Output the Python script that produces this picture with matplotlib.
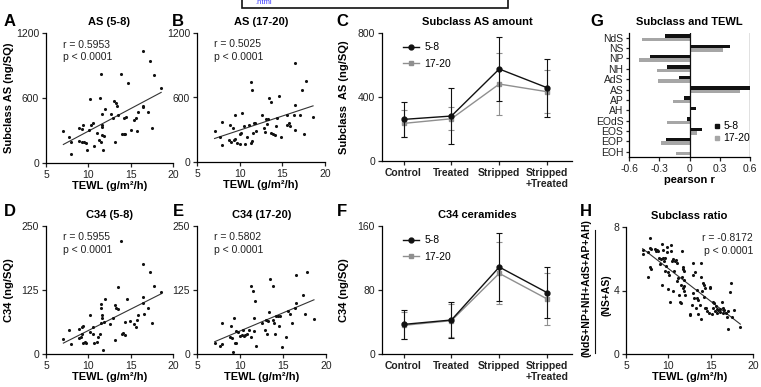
import numpy as np
import matplotlib
matplotlib.use('Agg')
import matplotlib.pyplot as plt
from matplotlib.lines import Line2D
from matplotlib.patches import Rectangle

plt.rcParams['font.family'] = ['Liberation Sans', 'DejaVu Sans']
plt.rcParams['font.size'] = 7.5
plt.rcParams['axes.linewidth'] = 0.9

# ---- data ----
# A: AS (5-8) vs TEWL
a_x = [7.05, 7.7, 8.0, 7.9, 8.9, 9.2, 9.4, 8.9, 9.2, 9.5, 9.7, 9.9, 10.1, 10.3, 10.5, 10.2,
       10.7, 11.0, 11.4, 11.5, 11.3, 11.6, 11.6, 11.6, 11.7, 11.9, 12.0, 11.5, 11.6, 12.7,
       12.9, 13.05, 13.2, 13.3, 13.4, 13.5, 13.8, 13.96, 14.2, 14.3, 14.2, 14.5, 14.7, 15.0,
       15.4, 15.6, 15.8, 15.9, 16.4, 16.5, 16.4, 17.1, 17.3, 17.5, 17.8, 18.6]
a_y = [294, 241, 195, 84, 319, 316, 350, 204, 195, 195, 186, 124, 303, 350, 371, 588,
       155, 278, 603, 823, 210, 263, 350, 448, 118, 247, 495, 195, 334, 448,
       411, 572, 195, 550, 526, 442, 823, 272, 272, 272, 411, 427, 736, 303,
       396, 411, 297, 473, 526, 520, 1030, 473, 943, 325, 813, 696]

# B: AS (17-20) vs TEWL
b_x = [7.06, 7.7, 7.97, 7.97, 8.9, 9.2, 8.8, 9.0, 9.35, 9.5, 9.7, 10.0, 9.4, 10.0, 10.2, 10.3,
       10.5, 10.6, 10.9, 11.1, 11.3, 11.4, 11.3, 11.5, 11.6, 11.7, 11.8, 11.9, 12.6, 12.8,
       12.95, 13.07, 13.2, 13.35, 13.45, 13.7, 13.7, 13.9, 14.1, 14.2, 14.4, 14.6, 14.9, 15.5,
       15.5, 15.8, 15.9, 16.5, 16.5, 16.4, 17.06, 17.3, 17.5, 17.8, 16.5, 18.6]
b_y = [290, 228, 156, 368, 343, 318, 203, 187, 203, 215, 178, 171, 436, 256, 271, 452,
       334, 165, 234, 340, 178, 197, 742, 670, 274, 365, 359, 290, 433, 312,
       281, 396, 352, 402, 592, 561, 274, 259, 249, 334, 405, 614, 234, 436,
       343, 359, 334, 530, 302, 436, 436, 670, 256, 758, 919, 421]

# D: C34 (5-8) vs TEWL
d_x = [7.05, 7.7, 7.95, 8.9, 8.9, 9.3, 9.1, 9.3, 9.4, 9.6, 9.4, 9.7, 10.2, 10.2, 10.5, 10.6,
       10.7, 11.0, 11.2, 11.4, 11.5, 11.55, 11.55, 11.6, 11.6, 11.7, 11.9, 12.0, 12.6, 12.95,
       13.1, 13.1, 13.3, 13.45, 13.55, 13.8, 13.96, 14.15, 14.3, 14.3, 14.6, 14.9, 15.4, 15.6,
       15.8, 15.9, 16.5, 16.5, 16.5, 16.6, 17.1, 17.3, 17.5, 17.8, 18.6]
d_y = [28.6, 46.8, 18.8, 30.5, 48, 53, 33.8, 40, 22, 22.7, 54.5, 22, 43.5, 76, 53, 39,
       22, 24, 33.8, 39, 89, 96.8, 59.7, 76, 69.5, 7.8, 63, 106.5, 57.8, 69.5,
       27.3, 95.5, 89.6, 87, 130, 220, 39, 41.6, 37, 63, 106.5, 64.3, 57.8, 53,
       66, 76, 176.6, 111.7, 100, 78, 89, 160, 59.7, 132, 121.4]

# E: C34 (17-20) vs TEWL
e_x = [7.06, 7.7, 7.95, 7.95, 8.9, 8.8, 9.1, 9.3, 9.5, 9.4, 9.5, 9.2, 9.8, 10.0, 10.2, 10.3,
       10.45, 10.6, 10.85, 11.1, 11.3, 11.3, 11.5, 11.6, 11.6, 11.8, 11.9, 12.6, 12.9, 13.0,
       13.1, 13.2, 13.4, 13.5, 13.8, 13.8, 13.9, 14.1, 14.2, 14.4, 14.5, 14.6, 14.9, 15.4,
       15.6, 15.8, 16.0, 16.4, 16.5, 16.5, 17.3, 17.5, 17.8, 18.6]
e_y = [20.8, 15.6, 18.8, 61, 54.5, 33.8, 31.8, 70.8, 45.5, 22, 20.8, 4.5, 43.5, 35, 37, 46.8,
       35, 38, 39, 46.8, 33.8, 132, 123, 70.8, 44.8, 103.9, 15.6, 61, 46.8, 66,
       39, 64.3, 82.5, 147, 132, 66, 59.7, 40, 74, 74, 54.5, 74.7, 14.3, 33.8,
       84.4, 78, 61, 89, 153.6, 98.7, 115, 78, 160, 68]

# H: subclass ratio vs TEWL
h_x = [6.97, 6.97, 7.64, 7.64, 7.84, 7.84, 7.9, 7.84, 7.9, 8.4, 8.55, 8.7, 8.8, 8.9, 9.1, 9.0,
       9.2, 9.3, 9.4, 9.4, 9.5, 9.6, 9.75, 9.6, 9.9, 9.9, 10.0, 10.1, 10.0, 10.2, 10.3, 10.3,
       10.4, 10.5, 10.6, 10.7, 10.8, 10.9, 11.0, 11.0, 11.2, 11.3, 11.4, 11.5, 11.5, 11.6,
       11.7, 11.7, 11.6, 11.7, 11.8, 11.9, 11.9, 12.0, 11.9, 12.5, 12.6, 12.8, 12.9, 12.95,
       12.95, 13.05, 13.2, 13.3, 13.4, 13.4, 13.5, 13.5, 13.7, 13.8, 13.8, 13.9, 14.0, 14.1,
       14.2, 14.2, 14.35, 14.35, 14.5, 14.6, 14.8, 14.9, 14.9, 15.1, 15.3, 15.3, 15.4, 15.5,
       15.65, 15.7, 15.7, 15.9, 16.05, 16.1, 16.3, 16.4, 16.5, 16.6, 16.85, 16.9, 17.0, 17.1,
       17.3, 17.4, 17.5, 17.7, 18.5]
h_y = [6.58, 6.28, 6.45, 4.82, 7.29, 6.70, 6.62, 5.51, 5.36, 6.62, 6.49, 6.55, 6.49, 6.03, 5.99, 5.65,
       4.36, 6.91, 6.55, 6.03, 5.86, 5.24, 5.55, 6.03, 6.76, 6.45, 5.15, 4.98, 4.10, 3.30, 6.49, 6.87,
       5.86, 3.94, 5.97, 5.2, 5.86, 5.9, 5.72, 4.57, 4.77, 3.73, 3.3, 3.19, 4.36, 6.49,
       5.51, 5.36, 4.88, 4.15, 3.94, 4.26, 5.21, 3.73, 4.67, 2.51, 2.43, 3.1, 5.72, 4.98,
       3.83, 3.5, 5.15, 2.89, 4.04, 3.5, 3.39, 2.55, 3.1, 5.72, 2.22, 4.88, 3.94, 4.46,
       4.36, 3.56, 4.15, 2.87, 2.89, 2.68, 2.58, 4.15, 4.19, 2.51, 2.89, 3.30, 3.19, 2.72,
       3.0, 2.85, 2.58, 2.79, 2.64, 2.85, 3.30, 2.89, 2.58, 2.79, 2.58, 2.3, 2.72, 1.55,
       3.9, 4.46, 2.3, 2.79, 1.7]

# C and F: group means with error bars
groups = ['Control', 'Treated', 'Stripped', 'Stripped\n+Treated']
as_58 = [260, 281, 575, 458]
as_58_err = [111, 177, 198, 180]
as_1720 = [235, 264, 481, 433]
as_1720_err = [85, 72, 193, 135]
c34_58 = [37, 42.5, 108.7, 76.7]
c34_58_err = [18, 22.5, 43, 32]
c34_1720 = [35.8, 41.7, 100.8, 68.8]
c34_1720_err = [17, 21, 38.6, 32]

# G: pearson r per subclass
subclasses = ['NdS', 'NS', 'NP', 'NH', 'AdS', 'AS', 'AP', 'AH', 'EOdS', 'EOS', 'EOP', 'EOH']
r_58 = [-0.24, 0.40, -0.39, -0.22, -0.10, 0.60, -0.05, 0.066, -0.02, 0.12, -0.23, 0.005]
r_1720 = [-0.47, 0.33, -0.50, -0.32, -0.31, 0.50, -0.165, 0.005, -0.22, 0.07, -0.28, -0.13]

BLACK = '#111111'
GRAY = '#8f8f8f'
W, H = 761, 387

fig = plt.figure(figsize=(W / 100, H / 100), dpi=100)


def box(x0, y0, x1, y1):
    return [x0 / W, (H - y1) / H, (x1 - x0) / W, (y1 - y0) / H]


def style(ax):
    for s in ['top', 'right']:
        ax.spines[s].set_visible(False)
    ax.tick_params(direction='out', length=3, width=0.9, pad=2, labelsize=7.5,
                   colors='#222222')


def scatter_panel(rect, x, y, ylim, yticks, title, r_txt, ylabel=None):
    ax = fig.add_axes(box(*rect))
    style(ax)
    ax.scatter(x, y, s=5, color=BLACK, linewidths=0, zorder=3)
    k, b = np.polyfit(x, y, 1)
    xs = np.array([min(x), max(x)])
    ax.plot(xs, k * xs + b, color='#333333', lw=0.8)
    ax.set_xlim(5, 20)
    ax.set_ylim(*ylim)
    ax.set_xticks([5, 10, 15, 20])
    ax.set_yticks(yticks)
    ax.set_title(title, fontsize=8, fontweight='bold', pad=6)
    ax.set_xlabel('TEWL (g/m²/h)', fontsize=8, fontweight='bold', labelpad=1)
    ax.text(0.13, 0.95, r_txt, transform=ax.transAxes, fontsize=7.5, va='top',
            linespacing=1.35, color='#222222')
    if ylabel:
        ax.set_ylabel(ylabel, fontsize=8, fontweight='bold')
        ax.yaxis.set_label_coords(-0.25, 0.5)
    return ax


scatter_panel((46, 33, 173, 163), a_x, a_y, (0, 1200), [0, 600, 1200], 'AS (5-8)',
              'r = 0.5953\np < 0.0001', 'Subclass AS (ng/SQ)')
scatter_panel((197, 33, 325, 162), b_x, b_y, (0, 1200), [0, 600, 1200], 'AS (17-20)',
              'r = 0.5025\np < 0.0001')
scatter_panel((46, 226, 173, 354), d_x, d_y, (0, 250), [0, 125, 250], 'C34 (5-8)',
              'r = 0.5955\np < 0.0001', 'C34 (ng/SQ)')
scatter_panel((197, 226, 326, 354), e_x, e_y, (0, 250), [0, 125, 250], 'C34 (17-20)',
              'r = 0.5802\np < 0.0001')

axh = scatter_panel((626, 227, 753, 354), h_x, h_y, (0, 8), [0, 4, 8], 'Subclass ratio', '')
axh.text(1.0, 0.95, 'r = -0.8172\np < 0.0001', transform=axh.transAxes, fontsize=7.5,
         va='top', ha='right', linespacing=1.35, color='#222222')
fig.text(586 / W, 1 - 288 / H, '(NdS+NP+NH+AdS+AP+AH)', rotation=90, fontsize=7.5,
         fontweight='bold', ha='center', va='center')
fig.add_artist(Line2D([595 / W, 595 / W], [1 - 230 / H, 1 - 353 / H], color=BLACK, lw=0.8))
fig.text(606 / W, 1 - 295 / H, '(NS+AS)', rotation=90, fontsize=7.5,
         fontweight='bold', ha='center', va='center')


def group_panel(rect, m1, e1, m2, e2, ylim, yticks, title, ylabel):
    ax = fig.add_axes(box(*rect))
    style(ax)
    xs = np.arange(len(groups))
    ax.errorbar(xs, m2, yerr=e2, color=GRAY, marker='s', ms=3.5, lw=1, elinewidth=0.8,
                capsize=2, capthick=0.8, label='17-20', zorder=2)
    ax.errorbar(xs, m1, yerr=e1, color=BLACK, marker='o', ms=3.5, lw=1, elinewidth=0.8,
                capsize=2, capthick=0.8, label='5-8', zorder=3)
    ax.set_xlim(-0.45, 3.52)
    ax.set_ylim(*ylim)
    ax.set_yticks(yticks)
    ax.set_xticks(xs)
    ax.set_xticklabels(groups, fontweight='bold', fontsize=7.5, linespacing=1.1)
    ax.set_title(title, fontsize=8, fontweight='bold', pad=6)
    ax.set_ylabel(ylabel, fontsize=8, fontweight='bold')
    ax.yaxis.set_label_coords(-0.175, 0.5)
    h = [Line2D([], [], color=BLACK, marker='o', ms=3.5, lw=1),
         Line2D([], [], color=GRAY, marker='s', ms=3.5, lw=1)]
    ax.legend(h, ['5-8', '17-20'], loc='upper left', bbox_to_anchor=(0.06, 1.0),
              frameon=False, fontsize=7.5, handlelength=1.6, handletextpad=0.5,
              labelspacing=0.6)
    return ax


group_panel((382, 33, 572, 161), as_58, as_58_err, as_1720, as_1720_err, (0, 800),
            [0, 400, 800], 'Subclass AS amount', 'Subclass  AS (ng/SQ)')
group_panel((382, 226, 572, 354), c34_58, c34_58_err, c34_1720, c34_1720_err, (0, 160),
            [0, 80, 160], 'C34 ceramides', 'C34 (ng/SQ)')

# G: bar panel
axg = fig.add_axes(box(629, 33, 750, 157))
style(axg)
yy = np.arange(len(subclasses))
axg.barh(yy - 0.17, r_58, height=0.34, color=BLACK, label='5-8')
axg.barh(yy + 0.17, r_1720, height=0.34, color='#a6a6a6', label='17-20')
axg.axvline(0, color=BLACK, lw=0.9)
axg.axvline(0.6, color=BLACK, lw=0.9)
axg.set_xlim(-0.6, 0.6)
axg.set_ylim(11.5, -0.45)
axg.set_yticks(yy)
axg.set_yticklabels(subclasses)
axg.set_xticks([-0.6, -0.3, 0, 0.3, 0.6])
axg.set_xticklabels(['-0.6', '-0.3', '0', '0.3', '0.6'])
axg.tick_params(axis='y', length=2.5, pad=1.5)
axg.set_title('Subclass and TEWL', fontsize=8, fontweight='bold', pad=6)
axg.set_xlabel('pearson r', fontsize=8, fontweight='bold', labelpad=1)
hg = [Line2D([], [], color=BLACK, marker='s', ms=3, lw=0),
      Line2D([], [], color='#a6a6a6', marker='s', ms=3, lw=0)]
axg.legend(hg, ['5-8', '17-20'], loc='center left', bbox_to_anchor=(0.66, 0.2),
           frameon=False, fontsize=7.5, handlelength=0.6, handletextpad=0.3,
           labelspacing=0.2, borderpad=0)

# panel letters
for letter, x, y in [('A', 10, 22), ('B', 178, 22), ('C', 342, 22), ('G', 597, 22),
                     ('D', 10, 212), ('E', 178, 212), ('F', 342, 212), ('H', 586, 212)]:
    fig.text(x / W, 1 - y / H, letter, fontsize=12, fontweight='bold', ha='center', va='center')

# popup overlay at top
fig.add_artist(Rectangle((242 / W, 1 - 8 / H), 266 / W, 10 / H, transform=fig.transFigure,
                         facecolor='white', edgecolor=BLACK, lw=1.2))
fig.text(255 / W, 1 - 3 / H, '.html', fontsize=5.5, color='#3a3aff', va='center')

fig.savefig('out.png', dpi=100)
